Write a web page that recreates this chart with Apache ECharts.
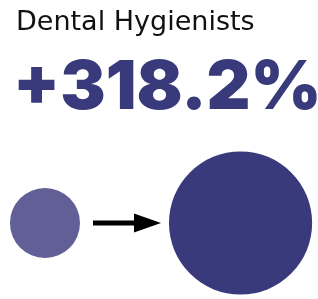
<!DOCTYPE html>
<html>
<head>
<meta charset="utf-8">
<script src="https://cdn.jsdelivr.net/npm/echarts@6/dist/echarts.min.js"></script>
<style>
  html, body { margin: 0; padding: 0; background: #fff; }
  #chart { width: 318px; height: 299px; }
</style>
</head>
<body>
<div id="chart"></div>
<script>
// data
var occupation = 'Dental Hygienists';
var periods = ['Before', 'After'];
var values = [100, 418.2];
var colors = ['#625E96', '#393A7B'];

var change = (values[1] / values[0] - 1) * 100;
var changeLabel = (change >= 0 ? '+' : '') + change.toFixed(1) + '%';

var baseSize = 70; // diameter of the first circle, px
function sizeOf(v) {
    return baseSize * Math.sqrt(v / values[0]);
}

var myChart = echarts.init(document.getElementById('chart'));
myChart.setOption({
    backgroundColor: '#fff',
    animation: false,
    title: [{
        text: occupation,
        left: 11,
        top: 4,
        textStyle: {
            fontFamily: 'DejaVu Sans',
            fontWeight: 400,
            fontSize: 27,
            color: '#111'
        }
    }, {
        text: changeLabel,
        left: 8,
        top: 50,
        textStyle: {
            fontFamily: 'Inter',
            fontWeight: 900,
            fontSize: 68,
            color: colors[1]
        }
    }],
    grid: {
        left: 0,
        right: 0,
        top: 147,
        bottom: 0
    },
    xAxis: {
        type: 'value',
        min: -0.23,
        max: 1.396,
        show: false
    },
    yAxis: {
        type: 'value',
        min: 0,
        max: 1,
        show: false
    },
    series: [{
        type: 'scatter',
        symbol: 'circle',
        data: periods.map(function (p, i) {
            return {
                name: p,
                value: [i, 0.5, values[i]],
                symbolSize: sizeOf(values[i]),
                itemStyle: { color: colors[i], opacity: 1 }
            };
        })
    }],
    graphic: [{
        type: 'rect',
        shape: { x: 93, y: 220.5, width: 44, height: 5 },
        style: { fill: '#000' }
    }, {
        type: 'polygon',
        shape: { points: [[134, 213.5], [161, 223], [134, 232.5]] },
        style: { fill: '#000' }
    }]
});
</script>
</body>
</html>
